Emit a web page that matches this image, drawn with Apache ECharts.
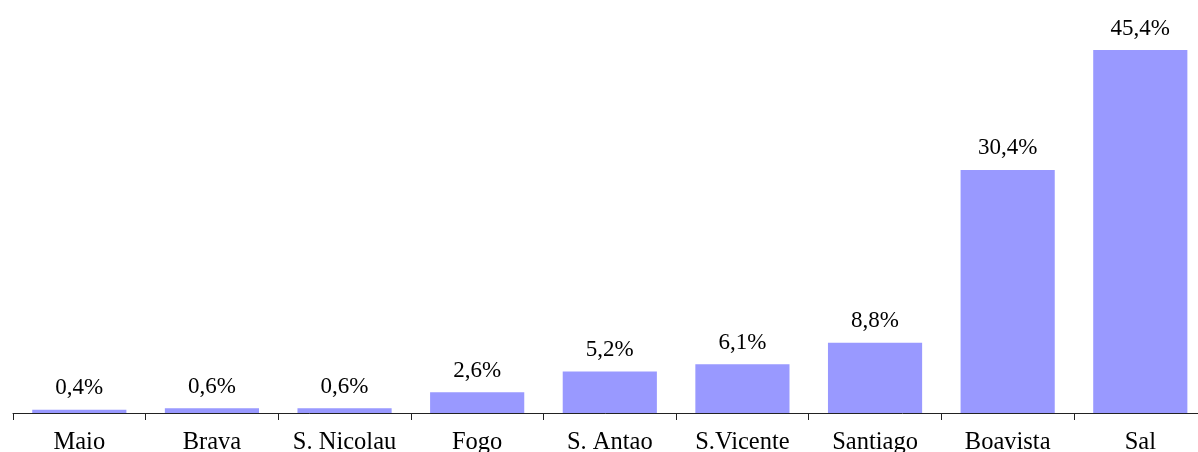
<!DOCTYPE html>
<html><head><meta charset="utf-8">
<script src="https://cdn.jsdelivr.net/npm/echarts@6/dist/echarts.min.js"></script>
<style>html,body{margin:0;padding:0;background:#fff}#c{width:1198px;height:452px}</style>
</head><body><div id="c"></div>
<script>
const categories = ['Maio','Brava','S. Nicolau','Fogo','S. Antao','S.Vicente','Santiago','Boavista','Sal'];
const values = [0.4, 0.6, 0.6, 2.6, 5.2, 6.1, 8.8, 30.4, 45.4];
const chart = echarts.init(document.getElementById('c'));
chart.setOption({
  animation: false,
  grid: { left: 13, top: 13.2, right: -8.6, bottom: 39, containLabel: false, outerBoundsMode: 'none' },
  xAxis: {
    type: 'category', data: categories,
    axisLine: { lineStyle: { color: '#222', width: 1 } },
    axisTick: { show: true, length: 7, lineStyle: { color: '#222' } },
    axisLabel: { color: '#000', fontFamily: 'Liberation Serif', fontSize: 24.5, margin: 17, interval: 0 }
  },
  yAxis: { type: 'value', min: 0, max: 50, show: false, splitLine: { show: false } },
  series: [{
    type: 'bar', data: values, barWidth: '71%',
    itemStyle: { color: '#9999ff' },
    label: {
      show: true, position: 'top', distance: 10, color: '#000',
      fontFamily: 'Liberation Serif', fontSize: 23,
      formatter: p => p.value.toFixed(1).replace('.', ',') + '%'
    }
  }]
});
</script></body></html>
